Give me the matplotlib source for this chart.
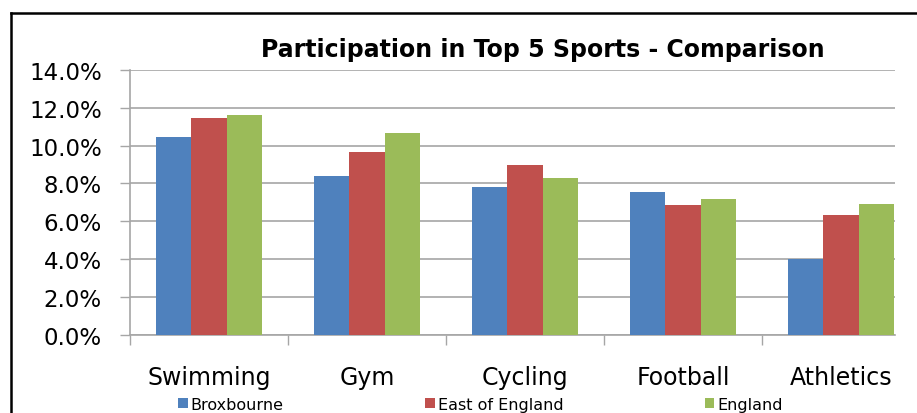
import numpy as np
import matplotlib
matplotlib.use("Agg")
import matplotlib.pyplot as plt
from matplotlib.patches import Patch
from matplotlib.lines import Line2D

#### data
sports = ["Swimming", "Gym", "Cycling", "Football", "Athletics"]
series_names = ["Broxbourne", "East of England", "England"]
broxbourne = [0.1044, 0.0841, 0.0780, 0.0753, 0.0402]
east_of_england = [0.1147, 0.0965, 0.0898, 0.0686, 0.0632]
england = [0.1161, 0.1066, 0.0828, 0.0720, 0.0693]
y_ticks = [0.0, 0.02, 0.04, 0.06, 0.08, 0.10, 0.12, 0.14]

colors = ["#4F81BD", "#C0504D", "#9BBB59"]
grid_grey = "#A6A6A6"

#### figure
W, H = 917, 414
fig = plt.figure(figsize=(W / 100, H / 100), dpi=100)
ax = fig.add_axes([130 / W, 1 - 335.7 / H, (895 - 130) / W, (335.7 - 71) / H])

x = np.arange(len(sports))
bw = 0.222
for k, vals in enumerate([broxbourne, east_of_england, england]):
    ax.bar(x + (k - 1) * bw, vals, width=bw, color=colors[k], linewidth=0, zorder=3)

ax.set_xlim(-0.5, -0.5 + (895 - 130) / 158)
ax.set_ylim(0, 0.14)
ax.set_yticks(y_ticks)
ax.set_yticklabels(["%.1f%%" % (v * 100) for v in y_ticks])
ax.yaxis.grid(True, color=grid_grey, linewidth=1.2, zorder=0)
ax.set_axisbelow(True)

ax.set_xticks(x)
ax.set_xticklabels(sports)
ax.set_xticks(np.arange(-0.5, 4.0, 1.0), minor=True)
ax.tick_params(axis="x", which="major", length=0, pad=22, labelsize=17)
ax.tick_params(axis="x", which="minor", length=7.2, width=1, color=grid_grey)
ax.tick_params(axis="y", length=7.2, width=1, color=grid_grey, pad=13, labelsize=16.5)

for s in ["top", "right"]:
    ax.spines[s].set_visible(False)
for s in ["left", "bottom"]:
    ax.spines[s].set_color(grid_grey)
    ax.spines[s].set_linewidth(1.2)

fig.text(542.5 / W, 1 - 56.7 / H, "Participation in Top 5 Sports - Comparison",
         ha="center", va="baseline", fontsize=17, fontweight="bold")

handles = [Patch(facecolor=c) for c in colors]
fig.legend(handles, series_names, loc="center left", ncol=3, frameon=False,
           bbox_to_anchor=(178 / W, 1 - 405.5 / H), borderpad=0, borderaxespad=0,
           fontsize=11.5, handlelength=0.6, handleheight=0.6, handletextpad=0.2,
           columnspacing=8.85)

# chart-area border (cut off at right and bottom)
fig.add_artist(Line2D([11 / W, 11 / W], [1 - 14 / H, -0.05], color="black", linewidth=1.8))
fig.add_artist(Line2D([11 / W, 1.05], [1 - 14 / H, 1 - 14 / H], color="black", linewidth=1.8))

fig.savefig("out.png", dpi=100)
